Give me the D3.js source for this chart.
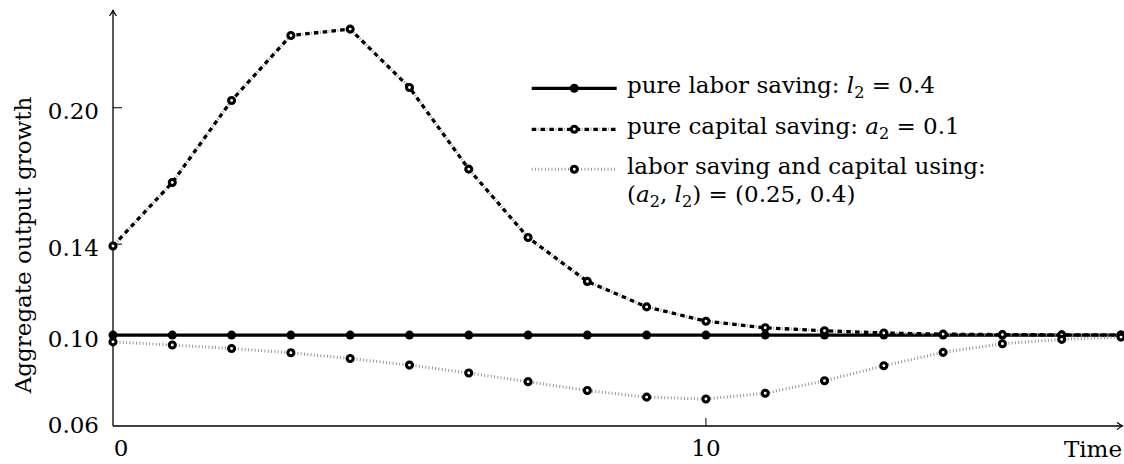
<!DOCTYPE html>
<html>
<head>
<meta charset="utf-8">
<script src="https://cdn.jsdelivr.net/npm/d3@7"></script>
<style>
  html, body { margin: 0; padding: 0; background: #fff; }
  svg { display: block; }
  text { font-family: "DejaVu Serif", "Liberation Serif", serif; fill: #000; }
</style>
</head>
<body>
<div id="chart"></div>
<script>
// ---- data ----
const times = [0, 1, 2, 3, 4, 5, 6, 7, 8, 9, 10, 11, 12, 13, 14, 15, 16, 17];
const laborSaving = [0.100, 0.100, 0.100, 0.100, 0.100, 0.100, 0.100, 0.100, 0.100,
                     0.100, 0.100, 0.100, 0.100, 0.100, 0.100, 0.100, 0.100, 0.100];
const capitalSaving = [0.1392, 0.1671, 0.2032, 0.2318, 0.2346, 0.2089, 0.1730, 0.1429, 0.1236,
                       0.1124, 0.1061, 0.1032, 0.1019, 0.1009, 0.1004, 0.1002, 0.1001, 0.1000];
const laborCapitalUsing = [0.0970, 0.0956, 0.0941, 0.0922, 0.0897, 0.0868, 0.0833, 0.0795, 0.0756,
                           0.0727, 0.0719, 0.0744, 0.0799, 0.0865, 0.0924, 0.0962, 0.0981, 0.0991];
const yTicks = [0.06, 0.10, 0.14, 0.20];
const yTickLabels = ["0.06", "0.10", "0.14", "0.20"];
const xTicks = [0, 10];
const xTickLabels = ["0", "10"];
const yAxisTitle = "Aggregate output growth";
const xAxisTitle = "Time";

// ---- layout ----
const W = 1124, H = 464;
const FS = 23;
const svg = d3.select("#chart").append("svg").attr("width", W).attr("height", H);

const x = d3.scaleLinear().domain([0, 17]).range([113, 1121]);
const y = d3.scaleLinear().domain([0.06, 0.243]).range([426, 10]);

const x0 = x(0), yB = y(0.06);

// axes
const axisG = svg.append("g");
axisG.append("line").attr("x1", x0).attr("x2", x0).attr("y1", yB).attr("y2", y(0.243) + 1)
  .attr("stroke", "#000").attr("stroke-width", 1.3);
axisG.append("line").attr("x1", x0).attr("x2", 1122).attr("y1", yB).attr("y2", yB)
  .attr("stroke", "#000").attr("stroke-width", 1.3);
// arrow heads
const yt = y(0.243);
axisG.append("path")
  .attr("d", `M${x0 - 3.5},${yt + 6} Q${x0 - 0.5},${yt + 2} ${x0},${yt} Q${x0 + 0.5},${yt + 2} ${x0 + 3.5},${yt + 6}`)
  .attr("fill", "none").attr("stroke", "#000").attr("stroke-width", 1.2);
axisG.append("path")
  .attr("d", `M1117,${yB - 3.5} Q1121,${yB - 0.5} 1123,${yB} Q1121,${yB + 0.5} 1117,${yB + 3.5}`)
  .attr("fill", "none").attr("stroke", "#000").attr("stroke-width", 1.2);

// y ticks
yTicks.forEach((v, i) => {
  if (v > 0.06) {
    axisG.append("line").attr("x1", x0).attr("x2", x0 + 9).attr("y1", y(v)).attr("y2", y(v))
      .attr("stroke", "#000").attr("stroke-width", 1);
  }
  axisG.append("text").attr("x", 99).attr("y", y(v) + (v === 0.06 ? 7 : 11.5))
    .attr("text-anchor", "end").attr("font-size", FS).text(yTickLabels[i]);
});
// x ticks
xTicks.forEach((v, i) => {
  if (v > 0) {
    axisG.append("line").attr("x1", x(v)).attr("x2", x(v)).attr("y1", yB).attr("y2", yB - 8)
      .attr("stroke", "#000").attr("stroke-width", 1);
  }
  axisG.append("text").attr("x", x(v) + (v === 0 ? 8 : 0)).attr("y", 456)
    .attr("text-anchor", "middle").attr("font-size", FS).text(xTickLabels[i]);
});
// axis titles
axisG.append("text").attr("transform", `translate(31,245) rotate(-90)`)
  .attr("text-anchor", "middle").attr("font-size", FS).text(yAxisTitle);
axisG.append("text").attr("x", 1122).attr("y", 456.5).attr("text-anchor", "end")
  .attr("font-size", FS).text(xAxisTitle);

// ---- series ----
const line = d3.line().x(d => x(d[0])).y(d => y(d[1]));
const pts = vals => times.map((t, i) => [t, vals[i]]);

function drawStyle(g, d, style) {
  if (style === "solid") {
    g.append("path").attr("d", d).attr("fill", "none").attr("stroke", "#000").attr("stroke-width", 3.2);
  } else if (style === "dashdot") {
    g.append("path").attr("d", d).attr("fill", "none").attr("stroke", "#999").attr("stroke-width", 3)
      .attr("stroke-dasharray", "0.9,7.9").attr("stroke-dashoffset", -6.1);
    g.append("path").attr("d", d).attr("fill", "none").attr("stroke", "#000").attr("stroke-width", 3.3)
      .attr("stroke-dasharray", "4.6,4.2");
  } else {
    g.append("path").attr("d", d).attr("fill", "none").attr("stroke", "#8c8c8c").attr("stroke-width", 3)
      .attr("stroke-dasharray", "0.9,2.4");
  }
}
function drawMarker(g, cx, cy, style) {
  if (style === "solid") {
    g.append("circle").attr("cx", cx).attr("cy", cy).attr("r", 4.5).attr("fill", "#000");
  } else {
    g.append("circle").attr("cx", cx).attr("cy", cy).attr("r", 3.0).attr("fill", "#fff")
      .attr("stroke", "#000").attr("stroke-width", 3.1);
  }
}

const series = [
  { vals: laborSaving, style: "solid" },
  { vals: capitalSaving, style: "dashdot" },
  { vals: laborCapitalUsing, style: "dotted" }
];
series.forEach(s => {
  const g = svg.append("g");
  const p = pts(s.vals);
  drawStyle(g, line(p), s.style);
  p.forEach(q => drawMarker(g, x(q[0]), y(q[1]), s.style));
});

// ---- legend ----
const leg = svg.append("g");
const legRows = [
  { sy: 88.3, by: 93, style: "solid",
    parts: [["pure labor saving: ", ""], ["l", "i"], ["2", "s"], [" = 0.4", ""]] },
  { sy: 129.3, by: 133.5, style: "dashdot",
    parts: [["pure capital saving: ", ""], ["a", "i"], ["2", "s"], [" = 0.1", ""]] },
  { sy: 169.3, by: 173.5, style: "dotted",
    parts: [["labor saving and capital using:", ""]] }
];
legRows.forEach(r => {
  drawStyle(leg, `M531.7,${r.sy}L616.7,${r.sy}`, r.style);
  drawMarker(leg, 574.3, r.sy, r.style);
  const t = leg.append("text").attr("x", 627).attr("y", r.by).attr("font-size", FS);
  addParts(t, r.parts);
});
const t4 = leg.append("text").attr("x", 627).attr("y", 202).attr("font-size", FS);
addParts(t4, [["(", ""], ["a", "i"], ["2", "s"], [", ", ""], ["l", "i"], ["2", "s"], [") = (0.25, 0.4)", ""]]);

function addParts(t, parts) {
  let sub = false;
  parts.forEach(([txt, kind]) => {
    const ts = t.append("tspan").text(txt).attr("xml:space", "preserve").style("white-space", "pre");
    if (kind === "i") ts.attr("font-style", "italic");
    if (kind === "s") { ts.attr("font-size", FS * 0.7).attr("dy", 5); sub = true; }
    else if (sub) { ts.attr("dy", -5); sub = false; }
  });
}
</script>
</body>
</html>
